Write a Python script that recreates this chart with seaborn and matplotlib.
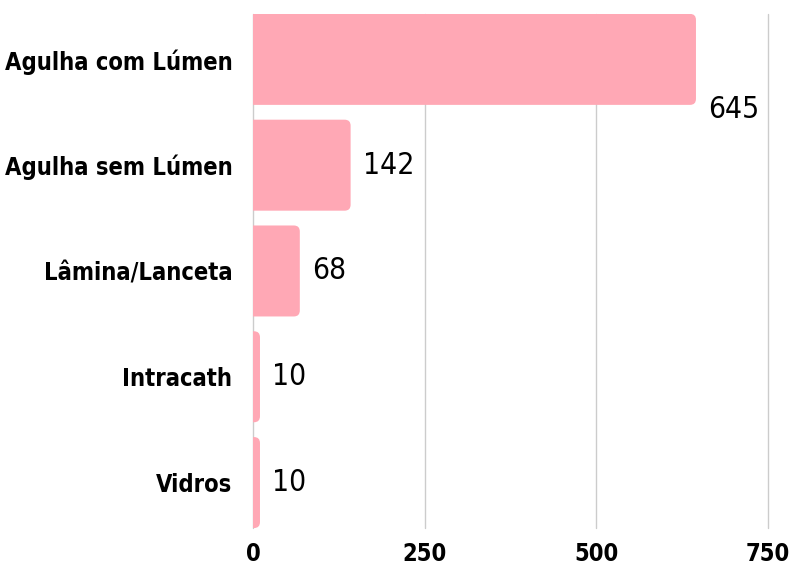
import matplotlib
matplotlib.use("Agg")
import matplotlib.pyplot as plt
import seaborn as sns
import pandas as pd
from matplotlib.patches import FancyBboxPatch

# dados
categorias = ["Agulha com Lúmen", "Agulha sem Lúmen", "Lâmina/Lanceta", "Intracath", "Vidros"]
valores = [645, 142, 68, 10, 10]
ticks_x = [0, 250, 500, 750]

cor_barra = "#ffa8b5"

sns.set_theme(style="white")
plt.rcParams["font.family"] = ["DejaVu Sans"]

df = pd.DataFrame({"categoria": categorias, "valor": valores})

fig = plt.figure(figsize=(7.91, 5.79), dpi=100)
ax = fig.add_axes([0.32, 0.088, 0.651, 0.888])

sns.barplot(data=df, x="valor", y="categoria", color=cor_barra, width=0.86,
            saturation=1, ax=ax, zorder=3)

ax.set_xlim(0, 750)
ax.set_ylim(len(categorias) - 0.57, -0.43)

# troca as barras por retangulos arredondados
px_x = 750 / (0.651 * 791)
px_y = (len(categorias) - 0.57 + 0.43) / (0.888 * 579)
raio = 6 * px_x
for p in list(ax.patches):
    x0, y0 = p.get_x(), p.get_y()
    w, h = p.get_width(), p.get_height()
    p.remove()
    box = FancyBboxPatch((x0 - raio, y0), w + raio, h,
                         boxstyle=f"round,pad=0,rounding_size={raio}",
                         mutation_aspect=px_y / px_x,
                         facecolor=cor_barra, edgecolor="none", zorder=3)
    ax.add_patch(box)

# rotulos de valor
for i, v in enumerate(valores):
    y = i + 0.47 if v > 500 else i
    ax.annotate(str(v), (v, y), xytext=(9, 0), textcoords="offset points",
                va="center", ha="left", fontsize=21.5, fontstretch="condensed",
                color="black")

ax.set_xticks(ticks_x)
ax.set_xticklabels([str(t) for t in ticks_x])
ax.grid(axis="x", color="#cccccc", linewidth=1, zorder=0)
ax.grid(axis="y", visible=False)
for gl in ax.get_xgridlines():
    gl.set_clip_on(False)
for s in ax.spines.values():
    s.set_visible(False)
ax.tick_params(axis="both", length=0)
ax.tick_params(axis="x", pad=10)
ax.tick_params(axis="y", pad=15)
for lab in ax.get_xticklabels() + ax.get_yticklabels():
    lab.set_fontsize(17)
    lab.set_fontweight("bold")
    lab.set_fontstretch("condensed")
    lab.set_color("black")
ax.set_xlabel("")
ax.set_ylabel("")

fig.savefig("out.png", dpi=100)
